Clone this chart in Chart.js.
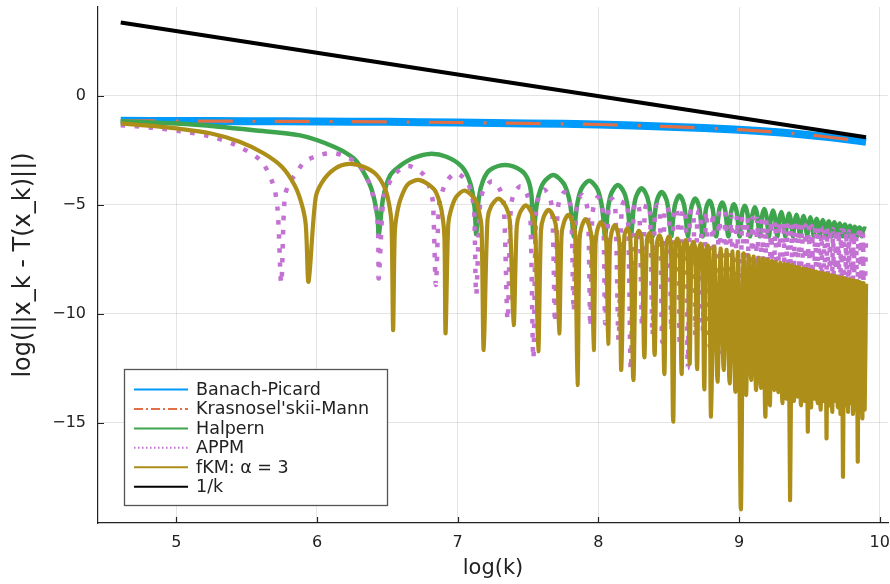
<!DOCTYPE html>
<html>
<head>
<meta charset="utf-8">
<script src="https://cdn.jsdelivr.net/npm/chart.js@4.4.1/dist/chart.umd.min.js"></script>
<style>
  html, body { margin: 0; padding: 0; background: #fff; }
  canvas { display: block; }
</style>
</head>
<body>
<canvas id="chart" width="890" height="584"></canvas>
<script>
// ── Axis ticks ──
const X_TICKS = [5, 6, 7, 8, 9, 10];
const Y_TICKS = [0, -5, -10, -15];

// ── Series values as [log(k), value] ──
const banachPicard = [
  [4.605, -1.15], [5.0, -1.16], [5.5, -1.17], [6.0, -1.18], [6.5, -1.20], [7.0, -1.23],
  [7.5, -1.27], [8.0, -1.32], [8.5, -1.42], [9.0, -1.56], [9.3, -1.69], [9.6, -1.87], [9.903, -2.11]
];

const krasnoselskii = [
  [4.605, -1.15], [5.0, -1.16], [5.5, -1.17], [6.0, -1.18], [6.5, -1.20], [7.0, -1.23],
  [7.5, -1.27], [8.0, -1.32], [8.5, -1.42], [9.0, -1.56], [9.3, -1.69], [9.6, -1.87], [9.903, -2.11]
];

const halpern = [
  [4.605, -1.17], [5.0, -1.28], [5.3, -1.42], [5.55, -1.58], [5.88, -1.82], [6.12, -2.34], [6.26, -2.87],
  [6.33, -3.49], [6.39, -4.33], [6.43, -5.55], [6.439, -6.4],
  [6.47, -4.7], [6.52, -3.65], [6.59, -3.22], [6.68, -2.87], [6.80, -2.67], [6.92, -2.80], [7.03, -3.26],
  [7.09, -4.02], [7.12, -5.1], [7.132, -6.35],
  [7.15, -4.7], [7.18, -3.9], [7.23, -3.4], [7.34, -3.18], [7.45, -3.42], [7.50, -3.85], [7.525, -4.6], [7.538, -6.47],
  [7.556, -5.27], [7.574, -4.61], [7.610, -3.99], [7.68, -3.64], [7.753, -4.02], [7.789, -4.64], [7.807, -5.3], [7.825, -6.45],
  [7.839, -5.53], [7.853, -4.87], [7.881, -4.25], [7.935, -3.90], [7.992, -4.27], [8.020, -4.89], [8.034, -5.55], [8.048, -6.45],
  [8.071, -5.07], [8.094, -4.45], [8.139, -4.10], [8.185, -4.47], [8.208, -5.09], [8.231, -6.45],
  [8.250, -5.22], [8.270, -4.60], [8.308, -4.25], [8.346, -4.62], [8.366, -5.24], [8.385, -6.45],
  [8.402, -5.39], [8.418, -4.77], [8.451, -4.42], [8.485, -4.79], [8.501, -5.41], [8.518, -6.45],
  [8.533, -5.55], [8.548, -4.93], [8.577, -4.58], [8.607, -4.95], [8.621, -5.57], [8.636, -6.45],
  [8.649, -5.69], [8.663, -5.07], [8.689, -4.72], [8.716, -5.09], [8.729, -5.71], [8.742, -6.45],
  [8.766, -5.17], [8.790, -4.82], [8.813, -5.19], [8.837, -6.45],
  [8.859, -5.25], [8.881, -4.90], [8.902, -5.27], [8.924, -6.45],
  [8.944, -5.33], [8.964, -4.98], [8.984, -5.35], [9.004, -6.45],
  [9.022, -5.40], [9.041, -5.05], [9.060, -5.42], [9.078, -6.45],
  [9.095, -5.47], [9.113, -5.12], [9.130, -5.49], [9.147, -6.45],
  [9.163, -5.55], [9.180, -5.20], [9.196, -5.57], [9.212, -6.45],
  [9.227, -5.62], [9.242, -5.27], [9.257, -5.64], [9.272, -6.45],
  [9.286, -5.68], [9.301, -5.33], [9.315, -5.70], [9.329, -6.45],
  [9.343, -5.75], [9.356, -5.40], [9.370, -5.77], [9.383, -6.45],
  [9.396, -5.76], [9.409, -5.46], [9.421, -5.76], [9.434, -6.45],
  [9.446, -5.80], [9.459, -5.52], [9.471, -5.80], [9.484, -6.45],
  [9.496, -5.84], [9.507, -5.58], [9.518, -5.84], [9.530, -6.45],
  [9.541, -5.88], [9.552, -5.64], [9.563, -5.88], [9.574, -6.45],
  [9.585, -5.92], [9.596, -5.70], [9.606, -5.92], [9.617, -6.45],
  [9.627, -5.97], [9.638, -5.76], [9.648, -5.97], [9.658, -6.45],
  [9.668, -6.00], [9.678, -5.81], [9.687, -6.00], [9.697, -6.45],
  [9.706, -6.04], [9.716, -5.86], [9.725, -6.04], [9.735, -6.45],
  [9.744, -6.07], [9.753, -5.91], [9.762, -6.07], [9.771, -6.45],
  [9.780, -6.11], [9.789, -5.96], [9.797, -6.11], [9.806, -6.45],
  [9.814, -6.14], [9.823, -6.01], [9.831, -6.14], [9.840, -6.45],
  [9.848, -6.17], [9.857, -6.05], [9.865, -6.17], [9.873, -6.45],
  [9.881, -6.20], [9.890, -6.09], [9.903, -6.12]
];

const appm = [
  [4.605, -1.35], [4.83, -1.47], [5.03, -1.63], [5.23, -1.85], [5.42, -2.26], [5.60, -2.98], [5.69, -4.10],
  [5.72, -5.24], [5.746, -8.6],
  [5.77, -4.71], [5.80, -4.05], [5.86, -3.49], [5.91, -3.03], [6.02, -2.72], [6.12, -2.64], [6.22, -2.83],
  [6.31, -3.26], [6.38, -4.17], [6.43, -5.70], [6.439, -8.38],
  [6.470, -4.85], [6.500, -4.19], [6.557, -3.57], [6.65, -3.22], [6.758, -3.62], [6.802, -4.25], [6.824, -4.9], [6.845, -8.68],
  [6.866, -5.15], [6.886, -4.5], [6.925, -3.9], [6.99, -3.55], [7.068, -3.95], [7.101, -4.6], [7.117, -5.25], [7.132, -9.14],
  [7.160, -4.89], [7.188, -4.27], [7.244, -3.92], [7.299, -4.29], [7.327, -4.91], [7.355, -10.29],
  [7.378, -5.12], [7.401, -4.50], [7.447, -4.15], [7.492, -4.52], [7.515, -5.14], [7.538, -12.05],
  [7.557, -5.27], [7.577, -4.65], [7.615, -4.30], [7.654, -4.67], [7.673, -5.29], [7.692, -10.41],
  [7.709, -5.39], [7.725, -4.77], [7.759, -4.42], [7.792, -4.79], [7.808, -5.41], [7.825, -9.9],
  [7.840, -5.52], [7.855, -4.90], [7.884, -4.55], [7.914, -4.92], [7.928, -5.54], [7.943, -10.6],
  [7.956, -5.62], [7.970, -5.00], [7.996, -4.65], [8.023, -5.02], [8.036, -5.64], [8.049, -10.44],
  [8.073, -5.07], [8.097, -4.72], [8.120, -5.09], [8.144, -11.2],
  [8.166, -5.15], [8.188, -4.80], [8.209, -5.17], [8.231, -12.58],
  [8.251, -5.22], [8.271, -4.87], [8.291, -5.24], [8.311, -10.6],
  [8.330, -5.29], [8.348, -4.94], [8.367, -5.31], [8.385, -11.0],
  [8.402, -5.35], [8.420, -5.00], [8.437, -5.37], [8.454, -11.3],
  [8.470, -5.41], [8.487, -5.06], [8.503, -5.43], [8.519, -10.8],
  [8.534, -5.47], [8.549, -5.12], [8.564, -5.49], [8.579, -11.5],
  [8.593, -5.52], [8.608, -5.17], [8.622, -5.54], [8.636, -12.5],
  [8.650, -5.57], [8.663, -5.22], [8.677, -5.59], [8.690, -11.0],
  [8.703, -5.62], [8.716, -5.27], [8.729, -5.64], [8.742, -10.8],
  [8.767, -5.31], [8.791, -11.5], [8.814, -5.36], [8.837, -11.0], [8.859, -5.40], [8.881, -11.8],
  [8.903, -5.43], [8.924, -11.2], [8.945, -5.47], [8.965, -12.0], [8.985, -5.51], [9.004, -11.0],
  [9.023, -5.54], [9.042, -11.5], [9.060, -5.57], [9.078, -10.8], [9.096, -5.61], [9.113, -10.5],
  [9.130, -5.64], [9.147, -10.8], [9.164, -5.67], [9.180, -10.5], [9.196, -5.70], [9.212, -10.6],
  [9.228, -5.72], [9.243, -10.5], [9.258, -5.75], [9.272, -10.7], [9.287, -5.78], [9.301, -10.5],
  [9.316, -5.80], [9.330, -10.6], [9.344, -5.83], [9.357, -10.5], [9.371, -5.85], [9.384, -10.7],
  [9.397, -5.87], [9.410, -10.5], [9.423, -5.90], [9.435, -10.6], [9.448, -5.92], [9.460, -10.5],
  [9.472, -5.94], [9.484, -10.7], [9.496, -5.96], [9.507, -10.5], [9.519, -5.98], [9.530, -10.6],
  [9.542, -6.00], [9.553, -10.5], [9.564, -6.02], [9.575, -10.7], [9.586, -6.04], [9.596, -10.5],
  [9.607, -6.06], [9.617, -10.6], [9.628, -6.08], [9.638, -10.5], [9.648, -6.10], [9.658, -10.7],
  [9.668, -6.12], [9.678, -10.5], [9.688, -6.13], [9.697, -10.6], [9.707, -6.15], [9.716, -10.5],
  [9.726, -6.17], [9.735, -10.7], [9.744, -6.18], [9.753, -10.5], [9.762, -6.20], [9.771, -10.6],
  [9.780, -6.22], [9.789, -10.5], [9.798, -6.23], [9.806, -10.7], [9.815, -6.25], [9.824, -10.5],
  [9.832, -6.26], [9.840, -10.6], [9.849, -6.28], [9.857, -10.5], [9.865, -6.29], [9.873, -10.7],
  [9.881, -6.31], [9.889, -10.5], [9.903, -6.35]
];

const fkm = [
  [4.605, -1.27], [4.80, -1.37], [5.00, -1.50], [5.24, -1.72], [5.45, -2.11], [5.62, -2.64], [5.75, -3.26],
  [5.84, -4.10], [5.89, -4.94], [5.92, -5.9], [5.940, -8.53],
  [5.990, -4.70], [6.038, -3.95], [6.127, -3.35], [6.23, -3.13], [6.33, -3.26], [6.422, -3.62], [6.483, -4.25],
  [6.512, -4.95], [6.530, -5.9], [6.541, -10.75],
  [6.553, -6.3], [6.569, -5.4], [6.596, -4.7], [6.648, -4.05], [6.73, -3.87], [6.833, -4.3], [6.874, -4.95],
  [6.894, -5.6], [6.906, -6.5], [6.914, -10.9],
  [6.933, -5.9], [6.952, -5.25], [6.989, -4.65], [7.05, -4.35], [7.124, -4.75], [7.155, -5.4], [7.170, -6.05], [7.185, -11.66],
  [7.212, -5.69], [7.238, -5.07], [7.291, -4.72], [7.345, -5.12], [7.371, -5.74], [7.398, -10.52],
  [7.420, -6.00], [7.442, -5.38], [7.485, -5.03], [7.529, -5.42], [7.551, -6.04], [7.573, -11.72],
  [7.592, -6.21], [7.610, -5.59], [7.647, -5.24], [7.685, -5.62], [7.703, -6.24], [7.722, -10.9],
  [7.738, -6.44], [7.755, -5.82], [7.787, -5.47], [7.820, -5.85], [7.836, -6.47], [7.852, -13.27],
  [7.866, -6.63], [7.881, -6.01], [7.910, -5.66], [7.938, -6.03], [7.953, -6.65], [7.967, -11.67],
  [7.980, -6.77], [7.993, -6.15], [8.019, -5.80], [8.044, -6.17], [8.057, -6.79], [8.070, -11.38],
  [8.082, -6.92], [8.093, -6.30], [8.117, -5.95], [8.140, -6.32], [8.151, -6.94], [8.163, -12.58],
  [8.185, -6.43], [8.206, -6.08], [8.227, -6.45], [8.249, -13.04],
  [8.269, -6.55], [8.288, -6.20], [8.308, -6.57], [8.327, -12.0],
  [8.345, -6.65], [8.364, -6.30], [8.382, -6.67], [8.400, -11.89],
  [8.417, -6.75], [8.435, -6.40], [8.452, -6.77], [8.469, -12.77],
  [8.485, -6.81], [8.501, -6.46], [8.516, -6.83], [8.532, -14.95],
  [8.547, -6.90], [8.562, -6.55], [8.577, -6.92], [8.592, -12.77],
  [8.606, -6.97], [8.621, -6.62], [8.635, -6.99], [8.649, -12.3],
  [8.662, -7.05], [8.676, -6.70], [8.689, -7.07], [8.702, -12.54],
  [8.715, -7.13], [8.728, -6.78], [8.740, -7.15], [8.753, -13.47],
  [8.765, -7.21], [8.777, -6.86], [8.789, -7.23], [8.801, -14.72],
  [8.824, -6.94], [8.847, -13.12], [8.869, -7.01], [8.891, -12.58], [8.912, -7.07], [8.933, -13.2],
  [8.954, -7.14], [8.974, -13.58], [8.994, -7.20], [9.013, -18.97], [9.032, -7.26], [9.050, -13.73],
  [9.068, -7.32], [9.086, -13.04], [9.104, -7.38], [9.121, -13.5], [9.138, -7.43], [9.155, -13.4],
  [9.171, -7.48], [9.187, -14.72], [9.203, -7.53], [9.219, -14.2], [9.234, -7.58], [9.249, -13.5],
  [9.264, -7.63], [9.279, -13.6], [9.294, -7.67], [9.308, -14.1], [9.322, -7.72], [9.336, -13.9],
  [9.350, -7.76], [9.363, -18.55], [9.377, -7.80], [9.390, -14.0], [9.403, -7.85], [9.415, -13.8],
  [9.428, -7.88], [9.440, -14.2], [9.453, -7.92], [9.465, -14.0], [9.477, -7.96], [9.489, -15.41],
  [9.501, -8.00], [9.512, -14.3], [9.524, -8.04], [9.535, -13.9], [9.547, -8.07], [9.558, -14.1],
  [9.569, -8.11], [9.580, -14.4], [9.591, -8.14], [9.601, -14.0], [9.612, -8.17], [9.622, -15.72],
  [9.632, -8.20], [9.642, -14.2], [9.653, -8.24], [9.663, -14.5], [9.673, -8.27], [9.682, -14.0],
  [9.692, -8.30], [9.702, -14.3], [9.712, -8.33], [9.721, -14.6], [9.730, -8.36], [9.739, -17.48],
  [9.748, -8.39], [9.757, -14.2], [9.766, -8.42], [9.775, -14.5], [9.784, -8.44], [9.793, -14.1],
  [9.802, -8.47], [9.810, -14.6], [9.819, -8.50], [9.827, -14.4], [9.836, -8.53], [9.844, -16.79],
  [9.853, -8.55], [9.861, -14.5], [9.869, -8.58], [9.877, -14.8], [9.885, -8.60], [9.893, -14.4],
  [9.903, -8.62]
];

const oneOverK = [[4.605, 3.36], [9.903, -1.91]];

const COLORS = {
  bp:   '#009AFA',
  km:   '#E36F47',
  hal:  '#3EA44E',
  appm: '#C371D2',
  fkm:  '#AC8E18',
  ref:  '#000000',
};

const FONT = '"DejaVu Sans", "Liberation Sans", sans-serif';

const toXY = pts => pts.map(([x, y]) => ({ x, y }));

// ── Inward ticks, axis titles, legend ──
const LEGEND_ROWS = [
  ['Banach-Picard',        COLORS.bp,   []],
  ["Krasnosel'skii-Mann",  COLORS.km,   [9, 3, 2, 3]],
  ['Halpern',              COLORS.hal,  []],
  ['APPM',                 COLORS.appm, [1.5, 2.5]],
  ['fKM: α = 3',           COLORS.fkm,  []],
  ['1/k',                  COLORS.ref,  []],
];

const decorations = {
  id: 'decorations',
  afterDraw(chart) {
    const { ctx, chartArea: a, scales: { x, y } } = chart;
    ctx.save();

    // ticks pointing into the plot
    ctx.strokeStyle = '#222';
    ctx.lineWidth = 1.2;
    ctx.beginPath();
    X_TICKS.forEach(v => {
      const px = Math.round(x.getPixelForValue(v)) + 0.5;
      ctx.moveTo(px, a.bottom);
      ctx.lineTo(px, a.bottom - 6);
    });
    Y_TICKS.forEach(v => {
      const py = Math.round(y.getPixelForValue(v)) + 0.5;
      ctx.moveTo(a.left, py);
      ctx.lineTo(a.left + 6, py);
    });
    ctx.stroke();

    // axis titles
    ctx.fillStyle = '#222';
    ctx.font = '21px ' + FONT;
    ctx.textAlign = 'center';
    ctx.textBaseline = 'middle';
    ctx.fillText('log(k)', (a.left + a.right) / 2, 569);
    ctx.save();
    ctx.font = '24px ' + FONT;
    ctx.translate(24, (a.top + a.bottom) / 2);
    ctx.rotate(-Math.PI / 2);
    ctx.fillText('log(||x_k - T(x_k)||)', 0, 0);
    ctx.restore();

    // legend
    const bx = 124.5, by = 369.5, bw = 263, bh = 136;
    ctx.fillStyle = '#fff';
    ctx.fillRect(bx, by, bw, bh);
    ctx.strokeStyle = '#555';
    ctx.lineWidth = 1.3;
    ctx.strokeRect(bx, by, bw, bh);
    ctx.font = '17.5px ' + FONT;
    ctx.textAlign = 'left';
    LEGEND_ROWS.forEach(([label, color, dash], i) => {
      const ry = 389.5 + i * 19.45;
      ctx.strokeStyle = color;
      ctx.lineWidth = 2;
      ctx.setLineDash(dash);
      ctx.beginPath();
      ctx.moveTo(134, ry);
      ctx.lineTo(188, ry);
      ctx.stroke();
      ctx.setLineDash([]);
      ctx.fillStyle = '#222';
      ctx.fillText(label, 196, ry + 1);
    });
    ctx.restore();
  }
};

new Chart(document.getElementById('chart'), {
  type: 'line',
  data: {
    datasets: [
      { label: 'Banach-Picard', data: toXY(banachPicard), borderColor: COLORS.bp, borderWidth: 8, order: 5 },
      { label: "Krasnosel'skii-Mann", data: toXY(krasnoselskii), borderColor: COLORS.km, borderWidth: 3.2,
        borderDash: [35, 20, 3, 19], order: 4 },
      { label: 'Halpern', data: toXY(halpern), borderColor: COLORS.hal, borderWidth: 4.5, order: 3 },
      { label: 'APPM', data: toXY(appm), borderColor: COLORS.appm, borderWidth: 4.5,
        borderDash: [4.5, 9.5], order: 2 },
      { label: 'fKM: α = 3', data: toXY(fkm), borderColor: COLORS.fkm, borderWidth: 4.2, order: 1 },
      { label: '1/k', data: toXY(oneOverK), borderColor: COLORS.ref, borderWidth: 4, order: 0 },
    ]
  },
  options: {
    responsive: false,
    animation: false,
    devicePixelRatio: 1,
    layout: { padding: { top: 7, right: 2, left: 0, bottom: 0 } },
    elements: {
      point: { radius: 0 },
      line: { tension: 0.3, borderJoinStyle: 'round', fill: false }
    },
    plugins: {
      legend: { display: false },
      tooltip: { enabled: false }
    },
    scales: {
      x: {
        type: 'linear',
        min: 4.4434, max: 10.059,
        afterFit: s => { s.height = 61; s.paddingLeft = 0; s.paddingRight = 0; },
        afterBuildTicks: s => { s.ticks = X_TICKS.map(value => ({ value })); },
        grid: { color: 'rgba(0,0,0,0.1)', drawTicks: false },
        border: { display: true, color: '#222', width: 1.2 },
        ticks: { color: '#222', padding: 10, font: { family: FONT, size: 16 }, maxRotation: 0 }
      },
      y: {
        type: 'linear',
        min: -19.60, max: 4.069,
        afterFit: s => { s.width = 98; s.paddingTop = 0; s.paddingBottom = 0; },
        afterBuildTicks: s => { s.ticks = Y_TICKS.map(value => ({ value })); },
        grid: { color: 'rgba(0,0,0,0.1)', drawTicks: false },
        border: { display: true, color: '#222', width: 1.2 },
        ticks: {
          color: '#222', padding: 12, font: { family: FONT, size: 16 },
          callback: v => (v < 0 ? '\u2212' + Math.abs(v) : String(v))
        }
      }
    }
  },
  plugins: [decorations]
});
</script>
</body>
</html>
